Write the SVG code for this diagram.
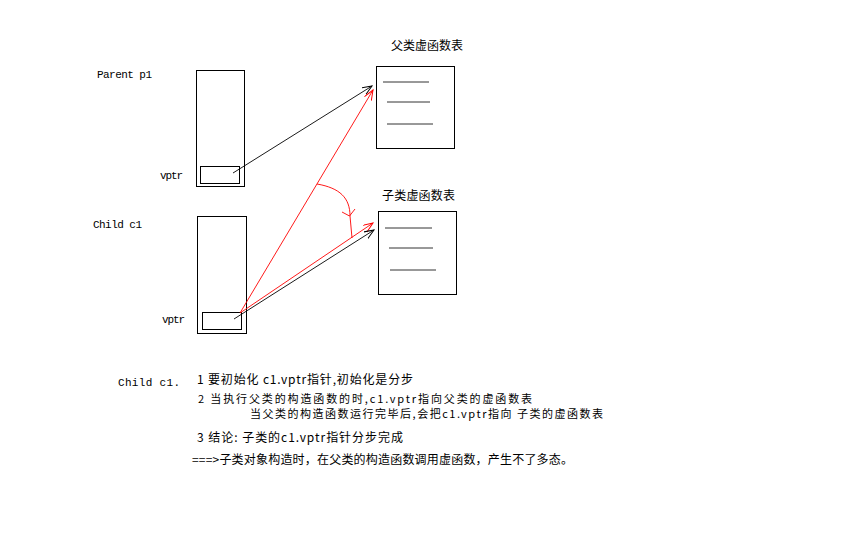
<svg xmlns="http://www.w3.org/2000/svg" width="856" height="537" viewBox="0 0 856 537">
<defs>
<style>
.box{fill:none;stroke:#000;stroke-width:1}
.ln{stroke:#333;stroke-width:1}
.t{font-family:"Liberation Mono","Noto Sans CJK SC",monospace;font-size:11px;fill:#000}
.c{font-family:"Noto Sans CJK SC","Liberation Mono",sans-serif;font-size:12px;fill:#000}
.s{font-size:11px}
.blk{fill:none;stroke:#000;stroke-width:0.9}
.red{fill:none;stroke:#f00;stroke-width:0.9}
</style>
<marker id="ab" markerUnits="userSpaceOnUse" markerWidth="12" markerHeight="10" refX="10" refY="4" orient="auto">
<path d="M0,0 L10,4 L0,8" fill="none" stroke="#000" stroke-width="1"/>
</marker>
<marker id="ar" markerUnits="userSpaceOnUse" markerWidth="12" markerHeight="10" refX="10" refY="4" orient="auto">
<path d="M0,0 L10,4 L0,8" fill="none" stroke="#f00" stroke-width="1"/>
</marker>
</defs>
<rect width="856" height="537" fill="#fff"/>

<g id="parent">
<text class="t" x="97" y="78" textLength="55">Parent p1</text>
<rect class="box" x="196.5" y="70.5" width="48" height="116"/>
<rect class="box" x="200.5" y="166.5" width="39" height="17"/>
<text class="t" x="160" y="179" textLength="23">vptr</text>
</g>

<g id="parent-vtable">
<text class="c" x="391" y="50" textLength="72">父类虚函数表</text>
<rect class="box" x="376.5" y="66.5" width="78" height="82"/>
<line class="ln" x1="383" y1="82" x2="429" y2="82"/>
<line class="ln" x1="387" y1="102" x2="430" y2="102"/>
<line class="ln" x1="387" y1="124" x2="433" y2="124"/>
</g>

<g id="child">
<text class="t" x="93" y="228" textLength="49">Child c1</text>
<rect class="box" x="197.5" y="216.5" width="49" height="117"/>
<rect class="box" x="202.5" y="312.5" width="39" height="17"/>
<text class="t" x="162" y="323" textLength="23">vptr</text>
</g>

<g id="child-vtable">
<text class="c" x="382" y="200" textLength="73">子类虚函数表</text>
<rect class="box" x="378.5" y="211.5" width="78" height="83"/>
<line class="ln" x1="385" y1="228" x2="432" y2="228"/>
<line class="ln" x1="389" y1="248" x2="433" y2="248"/>
<line class="ln" x1="390" y1="270" x2="436" y2="270"/>
</g>

<g id="connectors">
<line class="blk" x1="233" y1="173" x2="372" y2="86" marker-end="url(#ab)"/>
<line class="red" x1="240" y1="313" x2="373" y2="90" marker-end="url(#ar)"/>
<line class="red" x1="240" y1="313" x2="373" y2="223" marker-end="url(#ar)"/>
<line class="blk" x1="234" y1="319" x2="374" y2="230" marker-end="url(#ab)"/>
<path class="red" d="M317,184 C340,188 350,198 350,216 L352,238"/>
<path class="red" d="M342,212 L349.5,216 L355,209"/>
</g>

<g id="notes">
<text class="t" x="118" y="386" textLength="62">Child  c1.</text>
<text class="c" x="197" y="384" textLength="216">1 要初始化 c1.vptr指针,初始化是分步</text>
<text class="c s" x="198" y="403" textLength="334">2 当执行父类的构造函数的时,c1.vptr指向父类的虚函数表</text>
<text class="c s" x="250" y="418" textLength="353">当父类的构造函数运行完毕后,会把c1.vptr指向 子类的虚函数表</text>
<text class="c" x="197" y="442" textLength="206">3 结论: 子类的c1.vptr指针分步完成</text>
<text class="c" x="192" y="464" textLength="381">===&gt;子类对象构造时，在父类的构造函数调用虚函数，产生不了多态。</text>
</g>
</svg>
